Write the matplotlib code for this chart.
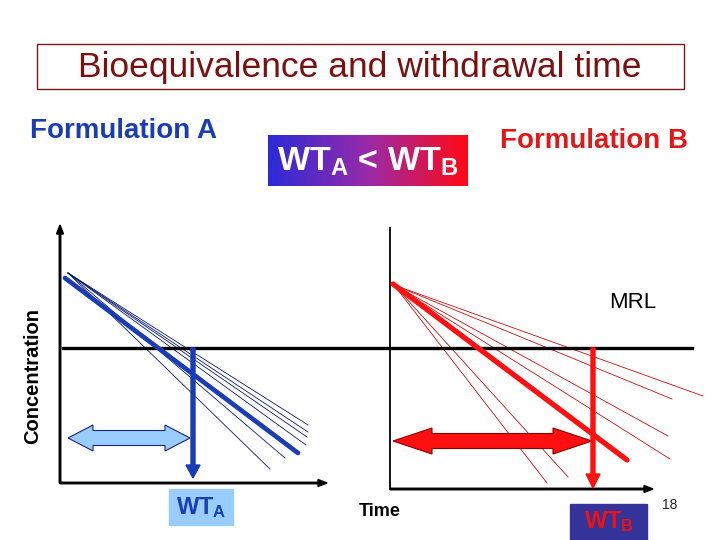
import numpy as np
import matplotlib
matplotlib.use('Agg')
import matplotlib.pyplot as plt
from matplotlib.patches import Rectangle, Polygon, FancyArrow
from matplotlib.colors import LinearSegmentedColormap

plt.rcParams['font.family'] = ['Liberation Sans', 'DejaVu Sans']
plt.rcParams['mathtext.fontset'] = 'custom'
plt.rcParams['mathtext.rm'] = 'Liberation Sans:bold'
plt.rcParams['mathtext.it'] = 'Liberation Sans:bold'
plt.rcParams['mathtext.bf'] = 'Liberation Sans:bold'

# diagram geometry (pixel units, y grows downward)
mrl_level = 348
left_axis = {'x0': 60, 'y0': 483, 'x1': 327, 'ytop': 225}
right_axis = {'x0': 390, 'y0': 489, 'x1': 653, 'ytop': 228}

# formulation A: mean curve + individual curves
blue_mean = [(65, 278), (298, 453)]
blue_start = (68, 273)
blue_ends_x = [308, 308, 307, 306, 285, 270]
blue_ends_y = [425, 432, 437, 445, 458, 469]
wt_a = 193

# formulation B: mean curve + individual curves
red_mean = [(393, 284), (627, 460)]
red_start = (394, 285)
red_ends_x = [703, 672, 668, 670, 568, 547]
red_ends_y = [396, 399, 436, 459, 477, 483]
wt_b = 593

blue_dark = '#1a3cb4'
red_main = '#ff1010'

fig = plt.figure(figsize=(7.2, 5.4), dpi=100)
ax = fig.add_axes([0, 0, 1, 1])
ax.set_xlim(0, 720)
ax.set_ylim(540, 0)
ax.axis('off')


def double_arrow(ax, x0, x1, y, shaft, head, hlen, fc, ec):
    pts = [(x0, y), (x0 + hlen, y - head), (x0 + hlen, y - shaft),
           (x1 - hlen, y - shaft), (x1 - hlen, y - head), (x1, y),
           (x1 - hlen, y + head), (x1 - hlen, y + shaft),
           (x0 + hlen, y + shaft), (x0 + hlen, y + head)]
    ax.add_patch(Polygon(pts, closed=True, fc=fc, ec=ec, lw=0.8, zorder=4))


# title
ax.add_patch(Rectangle((37, 44), 647, 45, fill=False, ec='#7a1a1a', lw=1))
ax.text(360, 68, 'Bioequivalence and withdrawal time', ha='center', va='center',
        fontsize=25.5, color='#7b1010')

ax.text(30, 131, 'Formulation A', ha='left', va='center', fontsize=20,
        fontweight='bold', color=blue_dark)
ax.text(500, 141, 'Formulation B', ha='left', va='center', fontsize=20,
        fontweight='bold', color='#e01818')

# gradient box
grad = np.linspace(0, 1, 256).reshape(1, -1)
cmap = LinearSegmentedColormap.from_list('br', ['#2a2ad8', '#9a2aa8', '#ff0a14'])
ax.imshow(grad, cmap=cmap, extent=[268, 468, 186, 135], aspect='auto', zorder=1)
ax.text(368, 162, r'WT$_{\mathrm{A}}$ < WT$_{\mathrm{B}}$', ha='center', va='center',
        fontsize=24.5, fontweight='bold', color='white', zorder=2)

# axes of the two panels
la, ra = left_axis, right_axis
ax.add_patch(FancyArrow(la['x0'], la['y0'], 0, la['ytop'] - la['y0'], width=1.5,
                        head_width=7, head_length=9, length_includes_head=True,
                        color='black', zorder=3))
ax.add_patch(FancyArrow(la['x0'], la['y0'], la['x1'] - la['x0'], 0, width=1.5,
                        head_width=7, head_length=9, length_includes_head=True,
                        color='black', zorder=3))
ax.plot([ra['x0'], ra['x0']], [ra['y0'], ra['ytop']], color='black', lw=1.3, zorder=3)
ax.add_patch(FancyArrow(ra['x0'], ra['y0'], ra['x1'] - ra['x0'], 0, width=1.5,
                        head_width=7, head_length=9, length_includes_head=True,
                        color='black', zorder=3))

# MRL
ax.plot([63, 692], [mrl_level, mrl_level], color='black', lw=2.4, zorder=3)
ax.text(609, 302, 'MRL', ha='left', va='center', fontsize=16, color='black')

# individual curves
for ex, ey in zip(blue_ends_x, blue_ends_y):
    ax.plot([blue_start[0], ex], [blue_start[1], ey], color='#0a1a70', lw=0.6, zorder=2)
for ex, ey in zip(red_ends_x, red_ends_y):
    ax.plot([red_start[0], ex], [red_start[1], ey], color='#c01010', lw=0.6, zorder=2)

# mean curves
ax.plot(*zip(*blue_mean), color=blue_dark, lw=3.4, solid_capstyle='round', zorder=3)
ax.plot(*zip(*red_mean), color=red_main, lw=3.8, solid_capstyle='round', zorder=3)

# withdrawal-time arrows
ax.add_patch(FancyArrow(wt_a, mrl_level, 0, 478 - mrl_level, width=4, head_width=14,
                        head_length=13, length_includes_head=True, color=blue_dark, zorder=5))
ax.add_patch(FancyArrow(wt_b, mrl_level, 0, 488 - mrl_level, width=4, head_width=14,
                        head_length=14, length_includes_head=True, color=red_main, zorder=5))

double_arrow(ax, 68, 190, 438, 7.5, 13, 25, '#99ccff', '#1a237e')
double_arrow(ax, 393, 592, 441, 7.5, 13, 39, red_main, '#8a0000')

# labels
ax.text(33, 376, 'Concentration', rotation=90, ha='center', va='center',
        fontsize=14.5, fontweight='bold', color='black')
ax.text(380, 511, 'Time', ha='center', va='center', fontsize=13,
        fontweight='bold', color='black')
ax.text(670, 505, '18', ha='center', va='center', fontsize=10, color='#222222')

ax.add_patch(Rectangle((169, 489), 64, 36, color='#99ccff', zorder=1))
ax.text(201, 508, r'WT$_{\mathrm{A}}$', ha='center', va='center', fontsize=17,
        fontweight='bold', color=blue_dark, zorder=2)
ax.add_patch(Rectangle((570, 504), 77, 36, color='#333399', zorder=1))
ax.text(609, 522, r'WT$_{\mathrm{B}}$', ha='center', va='center', fontsize=17,
        fontweight='bold', color='#ee1111', zorder=2)

fig.savefig('out.png', dpi=100)
